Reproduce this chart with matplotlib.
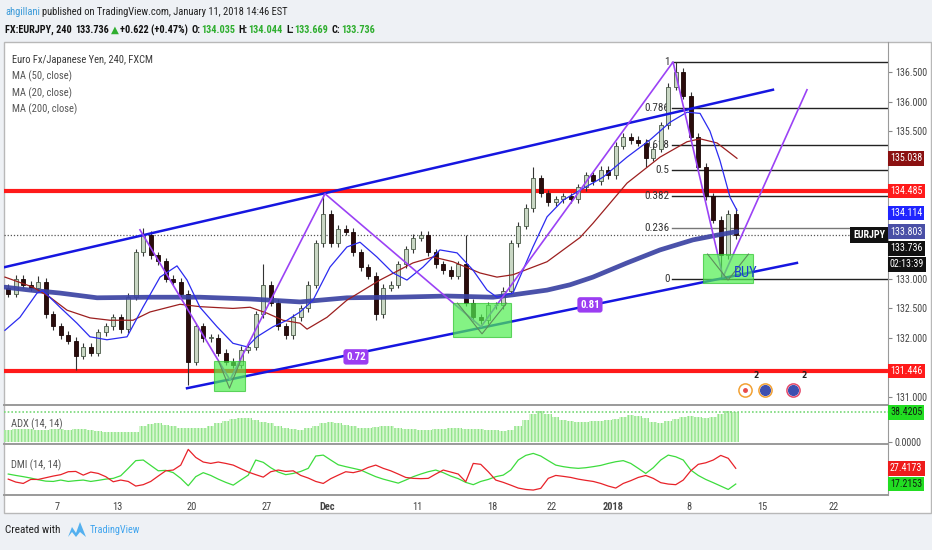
import numpy as np
import matplotlib.pyplot as plt
from matplotlib import font_manager
from matplotlib.patches import Rectangle, Polygon

W, H = 932, 550

# ---- price data (12h resolution, day index since Nov 7) ----
first_open = 132.85
closes = [132.75, 133.0, 132.9, 132.85, 132.95, 132.4, 132.2, 132.05, 131.95, 131.7,
          131.85, 131.75, 132.1, 132.2, 132.35, 132.15, 132.7, 133.45, 133.75, 133.4,
          133.3, 133.0, 132.95, 132.75, 131.6, 132.2, 132.0, 132.0, 131.75, 131.6,
          131.55, 131.8, 131.85, 132.4, 132.9, 132.6, 132.2, 132.05, 132.35, 132.5,
          132.9, 133.6, 134.1, 133.6, 133.85, 133.8, 133.45, 133.2, 133.05, 132.4,
          132.85, 132.9, 133.25, 133.5, 133.7, 133.75, 133.45, 133.25, 133.15, 133.05,
          133.25, 132.6, 132.35, 132.3, 132.55, 132.55, 132.8, 133.6, 133.9, 134.2,
          134.7, 134.45, 134.3, 134.35, 134.4, 134.35, 134.55, 134.75, 134.65, 134.85,
          134.75, 135.25, 135.4, 135.35, 135.3, 135.05, 135.2, 135.6, 136.25, 136.5,
          136.1, 135.4, 134.9, 134.4, 134.0, 133.4, 134.1, 133.736]
# bars whose wick reaches further than usual: index -> (high, low)
spikes = {4: (133.05, None), 9: (None, 131.46), 18: (133.86, None), 24: (None, 131.2),
          34: (133.25, None), 42: (134.42, None), 49: (None, 132.3), 61: (133.74, None),
          70: (134.9, None), 85: (None, 134.9), 89: (136.67, None), 95: (None, 133.02),
          97: (134.2, None)}

ma200_day = [-3.47, -1.8, 0.2, 2.67, 6.2, 9.53, 12.87, 16.2, 19.33, 22.67, 26.0,
             29.07, 30.4, 32.67, 34.2, 35.73, 38.0, 40.2, 42.4, 44.0, 45.33]
ma200 = [132.86, 132.81, 132.76, 132.68, 132.69, 132.69, 132.66, 132.61, 132.68, 132.69,
         132.71, 132.69, 132.73, 132.81, 132.9, 133.03, 133.27, 133.49, 133.66, 133.74, 133.80]

ma50_day = [-3.47, -1.6, -0.47, 0.67, 2.2, 3.53, 5.07, 6.2, 8.2, 9.53, 11.73, 12.87,
            14.0, 15.07, 16.2, 16.67, 18.0, 19.33, 21.53, 23.73, 25.07, 26.4, 28.2,
            29.33, 30.4, 32.67, 34.87, 35.73, 38.0, 40.2, 42.0, 42.87, 44.0, 45.33]
ma50 = [133.03, 132.86, 132.69, 132.47, 132.34, 132.3, 132.3, 132.44, 132.57, 132.53,
        132.5, 132.52, 132.42, 132.3, 132.25, 132.15, 132.35, 132.64, 132.98, 133.27,
        133.37, 133.29, 133.1, 133.03, 133.07, 133.29, 133.7, 133.94, 134.62, 135.06,
        135.32, 135.37, 135.3, 135.04]

ma20_day = [-3.47, -2.47, -1.33, -0.93, 0.2, 1.33, 2.2, 3.33, 4.67, 5.73, 6.87, 8.0,
            8.67, 9.53, 10.67, 11.73, 12.67, 13.33, 14.4, 15.33, 16.2, 17.07, 18.2,
            19.33, 20.2, 21.33, 22.4, 23.33, 24.4, 25.53, 26.67, 27.73, 28.67, 29.33,
            30.4, 31.73, 32.67, 33.73, 34.87, 36.4, 38.0, 39.53, 40.87, 42.0, 42.87,
            43.53, 44.2, 44.87, 45.33]
ma20 = [132.13, 132.35, 132.76, 132.8, 132.52, 132.25, 132.02, 131.97, 132.02, 132.52,
        133.03, 133.22, 132.98, 132.52, 132.19, 131.91, 131.85, 132.02, 132.19, 132.3,
        132.44, 132.64, 133.2, 133.54, 133.62, 133.37, 133.1, 132.98, 133.2, 133.49,
        133.44, 133.15, 132.81, 132.69, 132.76, 133.54, 134.05, 134.33, 134.5, 134.72,
        135.06, 135.35, 135.65, 135.82, 135.8, 135.5, 135.0, 134.38, 134.16]

adx = [16, 16.5, 17, 16.5, 16, 16, 16.5, 16.5, 16, 16.5,
       16.5, 16, 14, 13, 12.5, 12.5, 12.5, 13, 20, 23,
       24, 22, 20, 18.5, 17.5, 17.5, 18, 21, 25, 27,
       30, 31.5, 31, 29, 26, 24.5, 21, 18.5, 17, 16,
       18, 21, 24, 26.5, 25, 22, 20, 18.5, 18.5, 19.5,
       21, 20, 18.5, 17, 16.5, 16, 16, 16.5, 17, 17.5,
       17.5, 17, 16.5, 16.5, 16, 15, 13.5, 16, 20, 29,
       36, 40.5, 37, 32, 29, 27, 26.5, 26.5, 27, 27,
       28, 30, 32, 34.5, 33.5, 31, 26, 25, 27, 30,
       33, 34, 32, 31.5, 33, 36, 40, 38.42]

di_plus = [23.7, 22.8, 22.0, 21.1, 20.0, 19.1, 18.9, 19.8, 18.9, 19.4,
           19.8, 18.9, 19.6, 20.4, 20.9, 22.6, 27.4, 32.4, 32.8, 29.3,
           25.8, 26.1, 24.6, 20.9, 16.1, 22.0, 24.6, 22.8, 20.4, 18.3,
           16.5, 19.8, 23.0, 32.8, 31.3, 27.8, 25.0, 23.3, 24.1, 25.4,
           27.4, 35.4, 36.0, 32.8, 29.7, 28.5, 27.4, 26.3, 24.1, 22.0,
           20.4, 19.1, 17.8, 19.8, 22.0, 23.7, 25.2, 26.3, 24.6, 22.4,
           20.7, 18.3, 16.8, 18.9, 20.2, 22.0, 23.0, 26.3, 32.8, 35.8,
           37.1, 35.4, 32.4, 29.5, 28.5, 27.8, 27.4, 27.8, 28.5, 29.3,
           30.6, 31.7, 32.4, 30.6, 27.4, 24.1, 27.8, 32.8, 36.0, 34.9,
           32.8, 26.3, 22.8, 20.2, 18.1, 15.9, 13.7, 17.2153]
di_minus = [20.4, 18.5, 17.6, 20.2, 20.2, 21.3, 22.4, 23.3, 25.2, 25.4,
            23.0, 25.0, 24.1, 22.0, 18.7, 19.8, 18.9, 15.9, 16.8, 18.9,
            22.4, 25.8, 26.3, 29.5, 39.7, 34.5, 31.5, 30.6, 31.5, 30.6,
            29.5, 27.2, 25.0, 23.3, 21.7, 25.2, 26.3, 25.4, 25.8, 22.8,
            21.1, 18.9, 17.6, 20.7, 23.0, 25.2, 24.6, 25.8, 28.0, 29.5,
            27.4, 25.8, 23.7, 21.5, 20.9, 20.7, 20.9, 23.7, 26.3, 25.0,
            23.7, 18.7, 30.6, 30.0, 25.2, 19.8, 18.3, 16.5, 14.6, 13.7,
            13.3, 14.4, 20.9, 22.8, 22.2, 21.5, 20.4, 19.6, 18.9, 17.6,
            15.9, 14.6, 17.6, 19.4, 21.5, 22.8, 20.9, 18.1, 17.2, 16.8,
            19.8, 25.8, 30.0, 31.0, 32.8, 35.8, 33.9, 27.4173]

tick_days = [0, 4, 9, 14, 18, 24, 29, 33, 37.1, 42.1, 47, 51.8]
tick_labels = ['7', '13', '20', '27', 'Dec', '11', '18', '22', '2018', '8', '15', '22']
price_ticks = [131.0, 132.0, 132.5, 133.0, 135.5, 136.0, 136.5]

# drawings (day, price)
channel_top = [(-3.47, 133.2), (47.73, 136.2)]
channel_bottom = [(8.67, 131.15), (49.33, 133.27)]
zigzag = [(5.53, 133.83), (11.53, 131.29), (17.87, 134.44), (28.27, 132.19),
          (41.07, 136.67), (44.4, 133.03), (50.0, 136.2)]
boxes = [(10.47, 131.1, 12.53, 131.61), (26.4, 132.02, 30.27, 132.59),
         (43.07, 132.93, 46.4, 133.42)]
support_levels = [134.485, 131.446]
fib_ratios = [1, 0.786, 0.618, 0.5, 0.382, 0.236, 0]
fib_low, fib_high, fib_start = 133.0, 136.67, 41.0
last_price = 133.736

# ---- fonts: prefer a condensed face, like the original ----
ttf = font_manager.fontManager.ttflist
names = {f.name for f in ttf}
STRETCH = 'normal'
narrow = [nm for nm in ('Liberation Sans Narrow', 'Roboto Condensed', 'Open Sans Condensed',
                        'Noto Sans Condensed', 'Arial Narrow') if nm in names]
if narrow:
    BASE, SLACK = narrow[0], 1.0
elif any(f.name == 'DejaVu Sans' and f.stretch == 'condensed' for f in ttf):
    BASE, STRETCH, SLACK = 'DejaVu Sans', 'condensed', 1.0
else:
    BASE, SLACK = ('Liberation Sans' if 'Liberation Sans' in names else 'DejaVu Sans'), 1.14
FONT = [BASE, 'DejaVu Sans']
plt.rcParams['font.stretch'] = STRETCH
small = 7.2

fig = plt.figure(figsize=(W / 100, H / 100), dpi=100, facecolor='#eef1f5')
fig.add_artist(Rectangle((4 / W, 1 - 513 / H), 927 / W, 471 / H, transform=fig.transFigure,
                         facecolor='white', edgecolor='#b8b8b8', lw=1, zorder=0))
renderer = fig.canvas.get_renderer()


def fitted(x, y, parts, width, size, weight='normal'):
    """draw coloured text runs side by side, scaled to span about `width` pixels"""
    def place(sz):
        arts, cx = [], x
        for s, col, gap in parts:
            t = fig.text(cx / W, 1 - y / H, s, color=col, fontsize=sz, family=FONT,
                         weight=weight, stretch=STRETCH, va='center')
            arts.append(t)
            cx += t.get_window_extent(renderer=renderer).width + gap
        return arts, cx - x
    arts, w = place(size)
    for a in arts:
        a.remove()
    sz = size * width * SLACK / w
    place(sz)
    return sz


def fax(top, bottom):
    a = fig.add_axes([4 / W, 1 - bottom / H, 884 / W, (bottom - top) / H])
    a.set_xlim(-3.533, 55.4)
    a.patch.set_alpha(0)
    for s in ('top', 'left'):
        a.spines[s].set_visible(False)
    a.spines['right'].set_color('#9a9a9a')
    a.spines['bottom'].set_color('#9a9a9a')
    a.spines['bottom'].set_linewidth(1.4)
    a.yaxis.tick_right()
    a.tick_params(axis='y', length=3, color='#888', labelsize=small, labelcolor='#444', pad=2)
    a.set_xticks([])
    return a


ax = fax(42, 405)
ax.set_ylim(130.866, 137.008)
ax.set_yticks(price_ticks)
ax.set_yticklabels(['%.3f' % v for v in price_ticks], family=FONT)

# support / resistance
for lv in support_levels:
    ax.axhline(lv, color='#ff1a1a', lw=3, zorder=2)
ax.axhline(last_price, color='#555', lw=0.9, ls=(0, (1, 1.5)), zorder=2)

# fibonacci
for r in fib_ratios:
    lv = fib_low + r * (fib_high - fib_low)
    ax.plot([fib_start, 55.4], [lv, lv], color='#777' if r == 0.236 else '#222', lw=1, zorder=2)
    ax.text(fib_start - 0.15, lv, ('%g' % r), ha='right', va='center', fontsize=8,
            color='#333', family=FONT, zorder=2)

# channel
for ln in (channel_top, channel_bottom):
    (x0, y0), (x1, y1) = ln
    ax.plot([x0, x1], [y0, y1], color='#1616e0', lw=1.8, zorder=5)

# candles
c = np.array(closes)
n = len(c)
bar_day = -3.25 + 0.5 * np.arange(n)
o = np.r_[first_open, c[:-1]]
hi = np.maximum(o, c) + 0.06
lo = np.minimum(o, c) - 0.06
for i, (h, l) in spikes.items():
    if h is not None:
        hi[i] = h
    if l is not None:
        lo[i] = l
up = c >= o
ax.vlines(bar_day, lo, hi, color='#333', lw=0.8, zorder=3)
ax.bar(bar_day[up], np.maximum((c - o)[up], 0.015), bottom=o[up], width=0.28,
       color='#c9d7c4', edgecolor='#4a5a48', lw=0.6, zorder=4)
ax.bar(bar_day[~up], (o - c)[~up], bottom=c[~up], width=0.28,
       color='#2a0c0c', edgecolor='#1a0505', lw=0.6, zorder=4)

# moving averages
ax.plot(ma200_day, ma200, color='#3b43a3', lw=3.4, alpha=0.92, zorder=6, solid_capstyle='round')
ax.plot(ma50_day, ma50, color='#9c1f1f', lw=0.9, zorder=6)
ax.plot(ma20_day, ma20, color='#2b2bf0', lw=0.9, zorder=6)

# pattern drawings
zx, zy = zip(*zigzag)
ax.plot(zx, zy, color='#9b42f5', lw=1.2, zorder=7)
for x0, y0, x1, y1 in boxes:
    ax.add_patch(Rectangle((x0, y0), x1 - x0, y1 - y0, facecolor='#50ee50', alpha=0.7,
                           edgecolor='#2fc42f', lw=0.8, zorder=8))
    xm = (x0 + x1) / 2
    ax.plot([x0 + 0.3, xm, x1 - 0.3], [y1, y0 + 0.05, y1], color='#5c8c5c', lw=0.8, zorder=8)
ax.text(45.1, 133.1, 'BUY', color='#1c3fd0', fontsize=10.5, family=FONT, va='center', zorder=9)
for d, p, s in [(19.93, 131.68, '0.72'), (35.53, 132.56, '0.81')]:
    ax.text(d, p, s, color='white', fontsize=7.8, weight='bold', family=FONT, ha='center',
            va='center', zorder=9,
            bbox=dict(boxstyle='round,pad=0.25', facecolor='#9b3df2', edgecolor='none'))

# event icons
ax.plot(45.87, 131.12, 'o', ms=9.5, mfc='none', mec='#f2a134', mew=1.1, zorder=9)
ax.plot(45.87, 131.12, 'o', ms=2.5, color='#e84a4a', zorder=9)
ax.text(46.45, 131.33, '2', fontsize=5.5, weight='bold', color='#222', zorder=9)
ax.plot(47.2, 131.12, 'o', ms=9.5, mfc='none', mec='#f2a134', mew=1.1, zorder=9)
ax.plot(47.2, 131.12, 'o', ms=7, color='#3d4fb0', zorder=9)
ax.plot(49.07, 131.12, 'o', ms=9.5, mfc='none', mec='#e64a6a', mew=1.1, zorder=9)
ax.plot(49.07, 131.12, 'o', ms=7, color='#3d4fb0', zorder=9)
ax.text(49.65, 131.33, '2', fontsize=5.5, weight='bold', color='#222', zorder=9)


def tag(a, y, txt, bg, fg, dy=0):
    a.annotate(txt, xy=(1, y), xycoords=a.get_yaxis_transform(), xytext=(2, dy),
               textcoords='offset pixels', fontsize=small, family=FONT, color=fg,
               ha='left', va='center', annotation_clip=False, zorder=20,
               bbox=dict(boxstyle='square,pad=0.22', facecolor=bg, edgecolor='none'))


tag(ax, ma50[-1] - 0.002, '135.038', '#8b1010', 'white')
tag(ax, support_levels[0], '134.485', '#ff1a1a', 'white')
tag(ax, support_levels[1], '131.446', '#ff1a1a', 'white')
tag(ax, ma20[-1] - 0.046, '134.114', '#1f24ff', 'white')
tag(ax, ma200[-1], '133.803', '#4a4fa6', 'white')
tag(ax, last_price, '133.736', '#111', 'white', dy=-13)
tag(ax, last_price, '02:13:39', '#111', 'white', dy=-29)
ax.annotate('EURJPY', xy=(1, last_price), xycoords=ax.get_yaxis_transform(), xytext=(-19, 0),
            textcoords='offset pixels', fontsize=7.2, family=FONT, color='white',
            ha='center', va='center', weight='bold', zorder=20,
            bbox=dict(boxstyle='square,pad=0.3', facecolor='#111', edgecolor='none'))

# ADX pane
axa = fax(405, 444)
axa.set_ylim(-3.1, 48.3)
axa.bar(bar_day, adx, width=0.5, facecolor='#d6f7d0', edgecolor='#93e48c', lw=0, hatch='|||||', zorder=2)
axa.axhline(adx[-1], color='#77d877', lw=1.2, ls=(0, (1, 1.2)), zorder=3)
axa.set_yticks([0])
axa.set_yticklabels(['0.0000'], family=FONT)
tag(axa, adx[-1], '38.4205', '#22dd22', '#102010')

# DMI pane
axd = fax(444, 495)
axd.set_ylim(10.1, 43.2)
axd.plot(bar_day, di_plus, color='#3ddc3d', lw=0.9)
axd.plot(bar_day, di_minus, color='#e82229', lw=0.9)
axd.set_yticks([])
tag(axd, di_minus[-1], '27.4173', '#ee1c1c', 'white')
tag(axd, di_plus[-1], '17.2153', '#22dd22', '#102010')
axd.set_xticks(tick_days)
axd.set_xticklabels(tick_labels, family=FONT, fontsize=7.5, color='#444')
for t in axd.get_xticklabels():
    if t.get_text() in ('2018', 'Dec'):
        t.set_weight('bold')
axd.tick_params(axis='x', length=0, pad=5)

# legends
leg = fitted(12, 60, [('Euro Fx/Japanese Yen, 240, FXCM', '#3a3a3a', 0)], 143, 8)
for i, s in enumerate(['MA (50, close)', 'MA (20, close)', 'MA (200, close)']):
    fig.text(12 / W, 1 - (76.5 + 16.3 * i) / H, s, fontsize=leg, family=FONT, color='#555', va='center')
fig.text(11 / W, 1 - 424 / H, 'ADX (14, 14)', fontsize=leg, family=FONT, color='#555', va='center')
fig.text(11 / W, 1 - 465 / H, 'DMI (14, 14)', fontsize=leg, family=FONT, color='#555', va='center')

# header
G = '#2fae2f'
fitted(5, 12, [('ahgillani', '#3a9ad9', 2.5),
               ('published on TradingView.com, January 11, 2018 14:46 EST', '#222', 0)], 282, 8.5)
fitted(5, 30, [('FX:EURJPY, 240', '#111', 3.5), ('133.736', '#111', 2), ('\u25b2', G, 1.5),
               ('+0.622 (+0.47%)', '#111', 3.5), ('O:', '#111', 0.5), ('134.035', G, 3.5),
               ('H:', '#111', 0.5), ('134.044', G, 3.5), ('L:', '#111', 0.5), ('133.669', G, 3.5),
               ('C:', '#111', 0.5), ('133.736', G, 0)], 367, 8.5, weight='bold')

# footer
fitted(5, 530, [('Created with', '#222', 0)], 56, 8)
logo = [(68, 537), (72, 527), (76, 533), (80, 522), (86, 537), (80, 532), (76, 537), (72, 532)]
fig.add_artist(Polygon([(px / W, 1 - py / H) for px, py in logo], closed=True,
                       transform=fig.transFigure, facecolor='#53b0ef', edgecolor='none'))
fitted(90, 530, [('TradingView', '#41a5ee', 0)], 50, 8.5)

fig.savefig('out.png', dpi=100, facecolor=fig.get_facecolor())
